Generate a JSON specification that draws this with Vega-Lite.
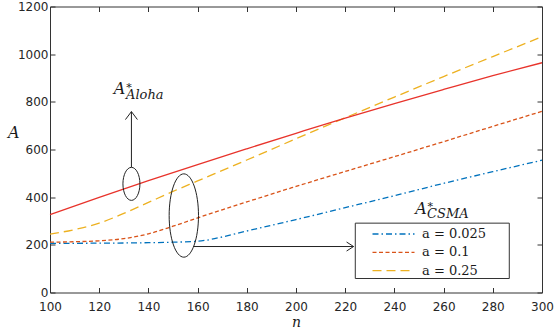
{
  "$schema": "https://vega.github.io/schema/vega-lite/v6.json",
  "width": 492,
  "height": 286,
  "autosize": {"type": "none"},
  "padding": {"left": 50, "top": 6.5, "right": 15, "bottom": 36.5},
  "background": "white",
  "config": {
    "view": {"stroke": "#333333", "strokeWidth": 1},
    "axis": {
      "domain": false, "grid": false, "tickColor": "#333333", "tickSize": -5,
      "labelFlush": false, "labelOverlap": false,
      "labelFont": "DejaVu Sans", "labelFontSize": 12, "labelColor": "#262626",
      "titleFont": "DejaVu Serif", "titleFontStyle": "italic", "titleFontWeight": "normal", "titleColor": "#1a1a1a"
    },
    "legend": {
      "orient": "none", "legendX": 335.5, "legendY": 219.5,
      "symbolType": "M-3,0H3", "symbolSize": 196, "symbolStrokeWidth": 1.3,
      "labelFont": "DejaVu Serif", "labelFontSize": 13, "labelColor": "#1a1a1a", "labelOffset": 20.5,
      "rowPadding": 3.3, "padding": 0, "title": null
    }
  },
  "datasets": {
    "csma": [
      {"n": 100, "A": 206, "series": "a = 0.025"},
      {"n": 120, "A": 207, "series": "a = 0.025"},
      {"n": 140, "A": 209, "series": "a = 0.025"},
      {"n": 150, "A": 211, "series": "a = 0.025"},
      {"n": 160, "A": 215, "series": "a = 0.025"},
      {"n": 165, "A": 222, "series": "a = 0.025"},
      {"n": 170, "A": 233, "series": "a = 0.025"},
      {"n": 180, "A": 258, "series": "a = 0.025"},
      {"n": 190, "A": 282, "series": "a = 0.025"},
      {"n": 200, "A": 306, "series": "a = 0.025"},
      {"n": 220, "A": 356, "series": "a = 0.025"},
      {"n": 240, "A": 406, "series": "a = 0.025"},
      {"n": 260, "A": 458, "series": "a = 0.025"},
      {"n": 280, "A": 507, "series": "a = 0.025"},
      {"n": 300, "A": 555, "series": "a = 0.025"},
      {"n": 100, "A": 211, "series": "a = 0.1"},
      {"n": 110, "A": 213, "series": "a = 0.1"},
      {"n": 120, "A": 217, "series": "a = 0.1"},
      {"n": 130, "A": 226, "series": "a = 0.1"},
      {"n": 140, "A": 246, "series": "a = 0.1"},
      {"n": 150, "A": 278, "series": "a = 0.1"},
      {"n": 160, "A": 313, "series": "a = 0.1"},
      {"n": 170, "A": 347, "series": "a = 0.1"},
      {"n": 180, "A": 380, "series": "a = 0.1"},
      {"n": 190, "A": 413, "series": "a = 0.1"},
      {"n": 200, "A": 445, "series": "a = 0.1"},
      {"n": 220, "A": 508, "series": "a = 0.1"},
      {"n": 240, "A": 570, "series": "a = 0.1"},
      {"n": 260, "A": 633, "series": "a = 0.1"},
      {"n": 280, "A": 697, "series": "a = 0.1"},
      {"n": 300, "A": 760, "series": "a = 0.1"},
      {"n": 100, "A": 245, "series": "a = 0.25"},
      {"n": 110, "A": 264, "series": "a = 0.25"},
      {"n": 120, "A": 291, "series": "a = 0.25"},
      {"n": 130, "A": 332, "series": "a = 0.25"},
      {"n": 140, "A": 378, "series": "a = 0.25"},
      {"n": 150, "A": 424, "series": "a = 0.25"},
      {"n": 160, "A": 468, "series": "a = 0.25"},
      {"n": 180, "A": 556, "series": "a = 0.25"},
      {"n": 200, "A": 645, "series": "a = 0.25"},
      {"n": 220, "A": 733, "series": "a = 0.25"},
      {"n": 240, "A": 820, "series": "a = 0.25"},
      {"n": 260, "A": 906, "series": "a = 0.25"},
      {"n": 280, "A": 990, "series": "a = 0.25"},
      {"n": 300, "A": 1073, "series": "a = 0.25"}
    ],
    "aloha": [
      {"n": 100, "A": 327},
      {"n": 120, "A": 399},
      {"n": 140, "A": 469},
      {"n": 160, "A": 537},
      {"n": 180, "A": 603},
      {"n": 200, "A": 668},
      {"n": 220, "A": 732},
      {"n": 240, "A": 793},
      {"n": 260, "A": 852},
      {"n": 280, "A": 910},
      {"n": 300, "A": 964}
    ]
  },
  "layer": [
    {
      "data": {"values": [{"n": 224.1, "n2": 286.7, "A": 291, "A2": 58.7}]},
      "mark": {"type": "rect", "fill": "white", "stroke": "#333333", "strokeWidth": 1},
      "encoding": {
        "x": {"field": "n", "type": "quantitative", "axis": null},
        "x2": {"field": "n2"},
        "y": {"field": "A", "type": "quantitative", "axis": null},
        "y2": {"field": "A2"}
      }
    },
    {
      "data": {"name": "csma"},
      "mark": {"type": "line", "strokeWidth": 1.3, "interpolate": "monotone"},
      "encoding": {
        "x": {
          "field": "n", "type": "quantitative",
          "scale": {"domain": [100, 300], "nice": false, "zero": false},
          "axis": {"orient": "bottom", "values": [100, 120, 140, 160, 180, 200, 220, 240, 260, 280, 300], "format": "d", "title": "n", "titleFontSize": 14, "titleY": 34, "titleBaseline": "alphabetic", "labelPadding": 14}
        },
        "y": {
          "field": "A", "type": "quantitative",
          "scale": {"domain": [0, 1200], "nice": false},
          "axis": {"orient": "left", "values": [0, 200, 400, 600, 800, 1000, 1200], "format": "d", "title": "A", "titleAngle": 0, "titleX": -36.7, "titleY": 130.8, "titleAlign": "center", "titleBaseline": "alphabetic", "titleFontSize": 16, "labelPadding": 7}
        },
        "color": {
          "field": "series", "type": "nominal",
          "scale": {"domain": ["a = 0.025", "a = 0.1", "a = 0.25"], "range": ["#0072BD", "#D95319", "#EDB120"]},
          "legend": {"title": null}
        },
        "strokeDash": {
          "field": "series", "type": "nominal",
          "scale": {"domain": ["a = 0.025", "a = 0.1", "a = 0.25"], "range": [[6, 3, 1.5, 3], [4, 2.5], [9, 5]]},
          "legend": {"title": null}
        }
      }
    },
    {
      "data": {"name": "aloha"},
      "mark": {"type": "line", "strokeWidth": 1.3, "color": "#e8332b", "interpolate": "monotone"},
      "encoding": {
        "x": {"field": "n", "type": "quantitative", "axis": {"orient": "top", "labels": false, "title": null, "values": [100, 120, 140, 160, 180, 200, 220, 240, 260, 280, 300]}},
        "y": {"field": "A", "type": "quantitative", "axis": {"orient": "right", "labels": false, "title": null, "values": [0, 200, 400, 600, 800, 1000, 1200]}}
      }
    },
    {
      "data": {"values": [{"n": 133.1, "A": 455.8}]},
      "mark": {"type": "point", "shape": "M0,-1C0.2844,-1,0.515,-0.5523,0.515,0C0.515,0.5523,0.2844,1,0,1C-0.2844,1,-0.515,0.5523,-0.515,0C-0.515,-0.5523,-0.2844,-1,0,-1Z", "size": 1089, "filled": false, "stroke": "#222222", "strokeWidth": 1, "opacity": 1},
      "encoding": {
        "x": {"field": "n", "type": "quantitative", "axis": null},
        "y": {"field": "A", "type": "quantitative", "axis": null}
      }
    },
    {
      "data": {"values": [{"n": 154.4, "A": 323}]},
      "mark": {"type": "point", "shape": "M0,-1C0.1944,-1,0.352,-0.5523,0.352,0C0.352,0.5523,0.1944,1,0,1C-0.1944,1,-0.352,0.5523,-0.352,0C-0.352,-0.5523,-0.1944,-1,0,-1Z", "size": 6944, "filled": false, "stroke": "#222222", "strokeWidth": 1, "opacity": 1},
      "encoding": {
        "x": {"field": "n", "type": "quantitative", "axis": null},
        "y": {"field": "A", "type": "quantitative", "axis": null}
      }
    },
    {
      "data": {"values": [{"n": 133.1, "n2": 133.1, "A": 525.8, "A2": 759}, {"n": 158.3, "n2": 223.4, "A": 192.9, "A2": 192.9}]},
      "mark": {"type": "rule", "stroke": "#222222", "strokeWidth": 1},
      "encoding": {
        "x": {"field": "n", "type": "quantitative", "axis": null},
        "x2": {"field": "n2"},
        "y": {"field": "A", "type": "quantitative", "axis": null},
        "y2": {"field": "A2"}
      }
    },
    {
      "data": {"values": [{"n": 133.1, "A": 759}]},
      "mark": {"type": "point", "shape": "M-1,1.33L0,0L1,1.33", "size": 144, "filled": false, "stroke": "#222222", "strokeWidth": 1, "opacity": 1},
      "encoding": {
        "x": {"field": "n", "type": "quantitative", "axis": null},
        "y": {"field": "A", "type": "quantitative", "axis": null}
      }
    },
    {
      "data": {"values": [{"n": 223.4, "A": 192.9}]},
      "mark": {"type": "point", "shape": "M-1.55,-1L0,0L-1.55,1", "size": 81, "filled": false, "stroke": "#222222", "strokeWidth": 1, "opacity": 1},
      "encoding": {
        "x": {"field": "n", "type": "quantitative", "axis": null},
        "y": {"field": "A", "type": "quantitative", "axis": null}
      }
    },
    {
      "data": {"values": [{"n": 128.3, "A": 832, "t": "A"}, {"n": 250.8, "A": 328.7, "t": "A"}]},
      "mark": {"type": "text", "font": "DejaVu Serif", "fontStyle": "italic", "fontSize": 16, "align": "center", "baseline": "alphabetic", "color": "#1a1a1a"},
      "encoding": {
        "x": {"field": "n", "type": "quantitative", "axis": null},
        "y": {"field": "A", "type": "quantitative", "axis": null},
        "text": {"field": "t"}
      }
    },
    {
      "data": {"values": [{"n": 131.0, "A": 846, "t": "*"}, {"n": 253.5, "A": 347, "t": "*"}]},
      "mark": {"type": "text", "font": "DejaVu Serif", "fontSize": 11, "align": "left", "baseline": "alphabetic", "color": "#1a1a1a"},
      "encoding": {
        "x": {"field": "n", "type": "quantitative", "axis": null},
        "y": {"field": "A", "type": "quantitative", "axis": null},
        "text": {"field": "t"}
      }
    },
    {
      "data": {"values": [{"n": 130.9, "A": 810, "t": "Aloha"}, {"n": 253.3, "A": 314, "t": "CSMA"}]},
      "mark": {"type": "text", "font": "DejaVu Serif", "fontStyle": "italic", "fontSize": 13, "align": "left", "baseline": "alphabetic", "color": "#1a1a1a"},
      "encoding": {
        "x": {"field": "n", "type": "quantitative", "axis": null},
        "y": {"field": "A", "type": "quantitative", "axis": null},
        "text": {"field": "t"}
      }
    }
  ],
  "resolve": {"axis": {"x": "independent", "y": "independent"}}
}
